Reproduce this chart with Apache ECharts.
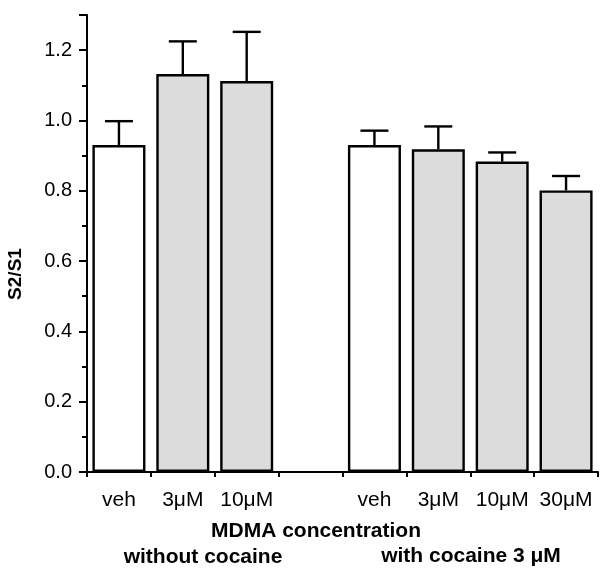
<!DOCTYPE html>
<html>
<head>
<meta charset="utf-8">
<script src="https://cdn.jsdelivr.net/npm/echarts@6/dist/echarts.min.js"></script>
<style>
  html, body { margin: 0; padding: 0; background: #fff; }
  #chart { width: 602px; height: 569px; }
</style>
</head>
<body>
<div id="chart"></div>
<script>
// categories (index 3 is the gap between the two groups)
const categories = ['veh', '3μM', '10μM', '', 'veh', '3μM', '10μM', '30μM'];
const means = [0.93, 1.132, 1.112, null, 0.93, 0.918, 0.883, 0.801];
const errors = [0.068, 0.093, 0.14, null, 0.041, 0.065, 0.026, 0.041];
const isVehicle = [true, false, false, false, true, false, false, false];
const yTicks = [0, 0.2, 0.4, 0.6, 0.8, 1.0, 1.2];

const font = 'Liberation Sans, Arial, sans-serif';
const gray = '#dcdcdc';

const barData = means.map((v, i) => ({
  value: v == null ? '-' : v,
  itemStyle: { color: isVehicle[i] ? '#ffffff' : gray }
}));

const errData = [];
means.forEach((v, i) => {
  if (v != null) errData.push([i, v, v + errors[i]]);
});

const chart = echarts.init(document.getElementById('chart'), null, { renderer: 'canvas' });

chart.setOption({
  animation: false,
  grid: { left: 87, right: 4, top: 15, bottom: 97 },
  xAxis: {
    type: 'category',
    data: categories,
    axisLine: { lineStyle: { color: '#000', width: 2 } },
    axisTick: { show: true, interval: 0, length: 5, lineStyle: { color: '#000', width: 2 } },
    axisLabel: { interval: 0, color: '#000', fontSize: 21, fontFamily: font, margin: 18 },
    splitLine: { show: false }
  },
  yAxis: {
    type: 'value',
    min: 0,
    max: 1.3,
    interval: 0.2,
    axisLine: { show: true, lineStyle: { color: '#000', width: 2 } },
    axisTick: { show: true, length: 8, lineStyle: { color: '#000', width: 2 } },
    minorTick: { show: true, splitNumber: 2, length: 5, lineStyle: { color: '#000', width: 2 } },
    axisLabel: {
      color: '#000', fontSize: 20, fontFamily: font, margin: 15,
      showMaxLabel: false,
      formatter: (v) => yTicks.some(t => Math.abs(t - v) < 1e-6) ? v.toFixed(1) : ''
    },
    splitLine: { show: false }
  },
  series: [
    {
      type: 'bar',
      data: barData,
      barWidth: '83%',
      itemStyle: { borderColor: '#000', borderWidth: 2.4 },
      z: 2
    },
    {
      type: 'custom',
      data: errData,
      z: 3,
      renderItem: (params, api) => {
        const base = api.coord([api.value(0), api.value(1)]);
        const top = api.coord([api.value(0), api.value(2)]);
        const half = 14;
        const style = { stroke: '#000', lineWidth: 2.4 };
        return {
          type: 'group',
          children: [
            { type: 'line', shape: { x1: base[0], y1: base[1], x2: top[0], y2: top[1] }, style },
            { type: 'line', shape: { x1: top[0] - half, y1: top[1], x2: top[0] + half, y2: top[1] }, style }
          ]
        };
      }
    }
  ],
  graphic: [
    {
      type: 'text', x: 16, y: 274, rotation: Math.PI / 2,
      style: { text: 'S2/S1', font: 'bold 19px ' + font, fill: '#000', align: 'center', verticalAlign: 'middle' }
    },
    {
      type: 'text', x: 316, y: 531,
      style: { text: 'MDMA concentration', font: 'bold 21px ' + font, fill: '#000', align: 'center', verticalAlign: 'middle' }
    },
    {
      type: 'text', x: 203, y: 557,
      style: { text: 'without cocaine', font: 'bold 21px ' + font, fill: '#000', align: 'center', verticalAlign: 'middle' }
    },
    {
      type: 'text', x: 471, y: 556,
      style: { text: 'with cocaine 3 μM', font: 'bold 21px ' + font, fill: '#000', align: 'center', verticalAlign: 'middle' }
    }
  ]
});
</script>
</body>
</html>
